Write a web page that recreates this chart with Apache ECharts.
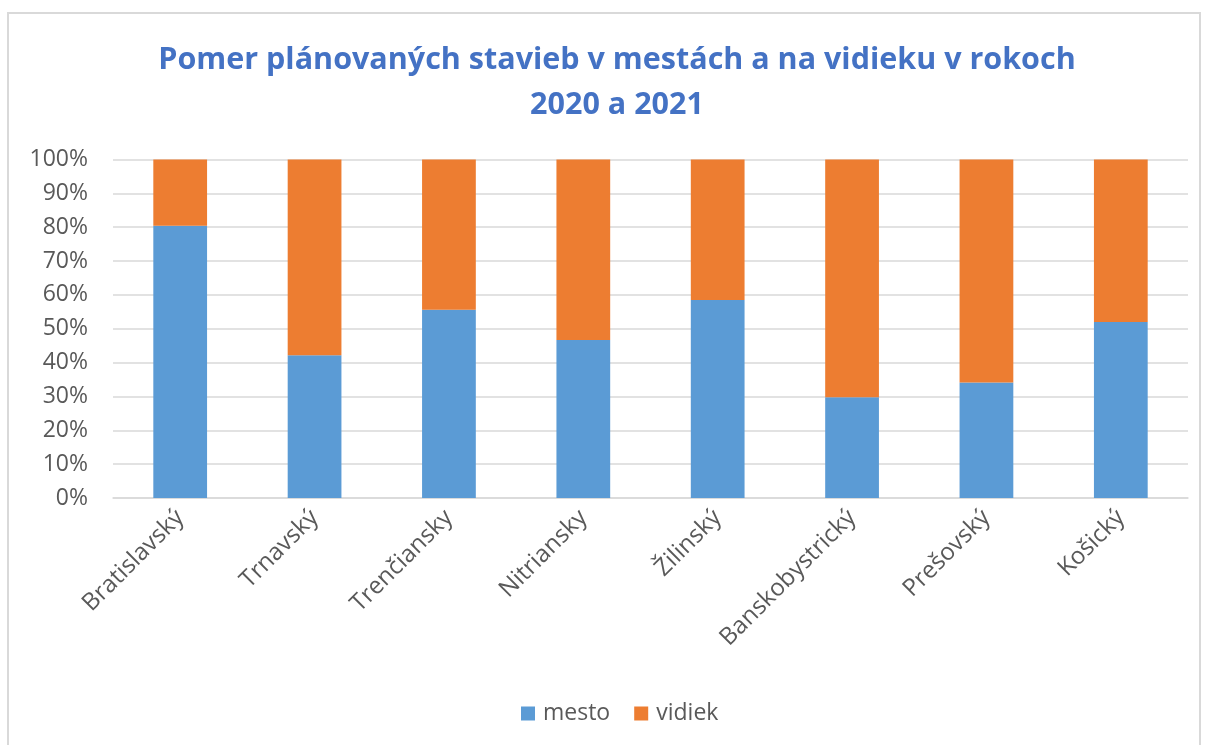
<!DOCTYPE html>
<html>
<head>
<meta charset="utf-8">
<title>Pomer plánovaných stavieb</title>
<script src="https://cdn.jsdelivr.net/npm/echarts@6/dist/echarts.min.js"></script>
<style>
  html, body { margin: 0; padding: 0; background: #fff; }
  #chart { width: 1205px; height: 745px; }
</style>
</head>
<body>
<div id="chart"></div>
<script>
  // kraje
  var kraje = ['Bratislavský', 'Trnavský', 'Trenčiansky', 'Nitriansky', 'Žilinský', 'Banskobystrický', 'Prešovský', 'Košický']
  // podiel v %, odčítané z grafu
  var mesto = [80.4, 42.2, 55.6, 46.7, 58.5, 29.8, 34.1, 52.0]
  var vidiek = [19.6, 57.8, 44.4, 53.3, 41.5, 70.2, 65.9, 48.0]

  var font = '"Open Sans", "Noto Sans", sans-serif'
  var gray = '#595959'

  var chart = echarts.init(document.getElementById('chart'))
  chart.setOption({
    animation: false,
    graphic: [{
      type: 'polyline',
      shape: { points: [[8, 745], [8, 13], [1200, 13], [1200, 745]] },
      style: { stroke: '#d9d9d9', lineWidth: 2, fill: null }
    }],
    title: {
      text: 'Pomer plánovaných stavieb v mestách a na vidieku v rokoch\n2020 a 2021',
      left: 612,
      textAlign: 'center',
      top: 33,
      textStyle: {
        fontFamily: font,
        fontWeight: 'bold',
        fontSize: 30.5,
        lineHeight: 45,
        color: '#4472C4'
      }
    },
    legend: {
      data: ['mesto', 'vidiek'],
      bottom: 15,
      left: 516,
      icon: 'rect',
      itemWidth: 14,
      itemHeight: 14,
      itemGap: 24,
      textStyle: { fontFamily: font, fontSize: 23, color: gray, padding: [0, 0, 0, 3] }
    },
    grid: { left: 113, right: 17, top: 159.5, bottom: 247 },
    xAxis: {
      type: 'category',
      data: kraje,
      axisLine: { show: true, lineStyle: { color: '#d9d9d9', width: 1.5 } },
      axisTick: { show: false },
      axisLabel: { rotate: 45, margin: 16, fontFamily: font, fontSize: 24, color: gray, interval: 0 }
    },
    yAxis: {
      type: 'value',
      min: 0,
      max: 100,
      interval: 10,
      axisLine: { show: false },
      axisTick: { show: false },
      splitLine: { lineStyle: { color: '#d9d9d9', width: 1.5 } },
      axisLabel: { formatter: '{value}%', margin: 25, fontFamily: font, fontSize: 23, color: gray }
    },
    series: [
      {
        name: 'mesto',
        type: 'bar',
        stack: 'spolu',
        barWidth: '40%',
        data: mesto,
        itemStyle: { color: '#5B9BD5' }
      },
      {
        name: 'vidiek',
        type: 'bar',
        stack: 'spolu',
        barWidth: '40%',
        data: vidiek,
        itemStyle: { color: '#ED7D31' }
      }
    ]
  })
</script>
</body>
</html>
